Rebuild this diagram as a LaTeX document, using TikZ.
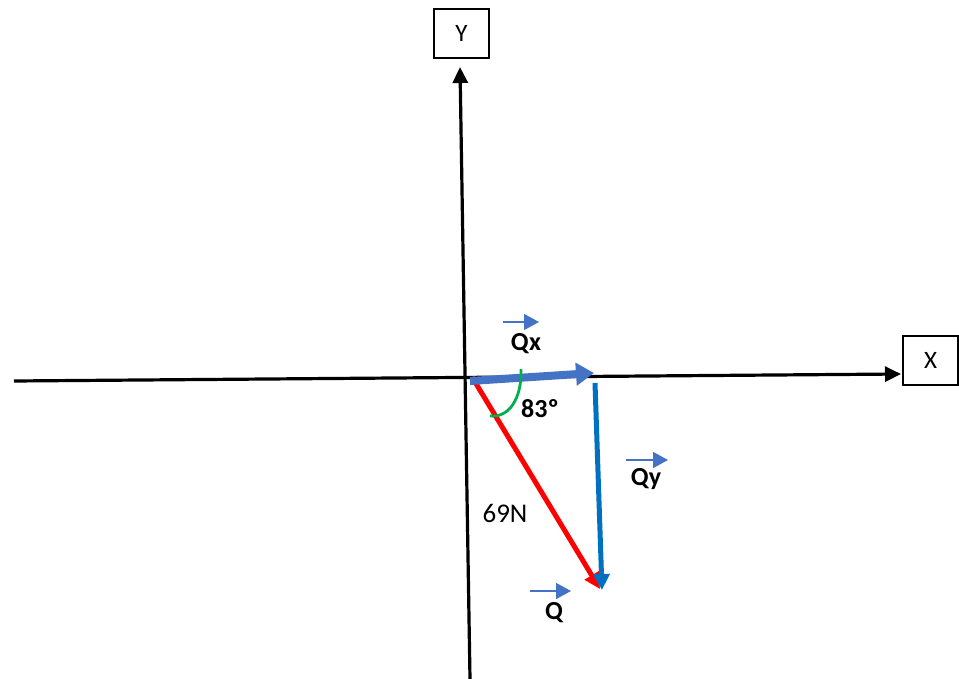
\documentclass[tikz,border=0pt]{standalone}
\usepackage{fontspec}
\setmainfont{Carlito}
\usetikzlibrary{arrows.meta}
\definecolor{qblue}{HTML}{4472C4}
\definecolor{yblue}{HTML}{0070C0}
\definecolor{qred}{HTML}{FF0000}
\definecolor{qgreen}{HTML}{00B050}
\tikzset{
  axisline/.style={line width=3.2pt,-{Triangle[length=16pt,width=15pt]}},
  lblbox/.style={draw,line width=1.2pt,minimum width=55pt,minimum height=49pt,font=\fontsize{25}{27}\selectfont,inner sep=0pt},
  vlabel/.style={font=\bfseries\fontsize{26}{28}\selectfont,inner sep=0pt},
  vecmark/.style={qblue,line width=1.4pt,-{Triangle[length=15pt,width=16pt]}}
}
\begin{document}
\begin{tikzpicture}[x=1pt,y=-1pt]
\useasboundingbox (0,0) rectangle (959,679);
\node[lblbox] (ybox) at (461.5,33.5) {Y};
\node[lblbox] (xbox) at (930.5,360.5) {X};
\coordinate (ybot) at (470,679);
\coordinate (ytop) at (460,67);
\coordinate (xl) at (14,381);
\coordinate (xr) at (901,374);
\draw[axisline] (ybot) -- (ytop);
\draw[axisline] (xl) -- (xr);
% vectors
\coordinate (o) at (470,381);
\coordinate (qxend) at (594,373);
\coordinate (qys) at (595,383);
\coordinate (qye) at (602,590);
\coordinate (rs) at (472,377);
\coordinate (re) at (600,589);
\draw[qred,line width=5pt,-{Triangle[length=16pt,width=16pt]}] (rs) -- (re);
\draw[yblue,line width=5pt,-{Triangle[length=16pt,width=16pt]}] (qys) -- (qye);
\draw[qblue,line width=8pt,-{Triangle[length=18pt,width=22pt]}] (o) -- (qxend);
% angle arc
\coordinate (a1) at (521,369);
\coordinate (a2) at (490,416);
\draw[qgreen,line width=2.8pt] (a1) .. controls (522,400) and (508,418) .. (a2);
% labels
\node[vlabel] (angle) at (540,409) {83º};
\node[vlabel] (qxl) at (526,344) {Qx};
\node[vlabel] (qyl) at (646,479) {Qy};
\node[vlabel] (ql) at (554,613) {Q};
\node[font=\fontsize{27}{29}\selectfont,inner sep=0pt] (mag) at (505,513) {69N};
\coordinate (m1a) at (503,322); \coordinate (m1b) at (539,322);
\coordinate (m2a) at (626,460); \coordinate (m2b) at (668,460);
\coordinate (m3a) at (530,591); \coordinate (m3b) at (571,591);
\draw[vecmark] (m1a) -- (m1b);
\draw[vecmark] (m2a) -- (m2b);
\draw[vecmark] (m3a) -- (m3b);
\end{tikzpicture}
\end{document}
